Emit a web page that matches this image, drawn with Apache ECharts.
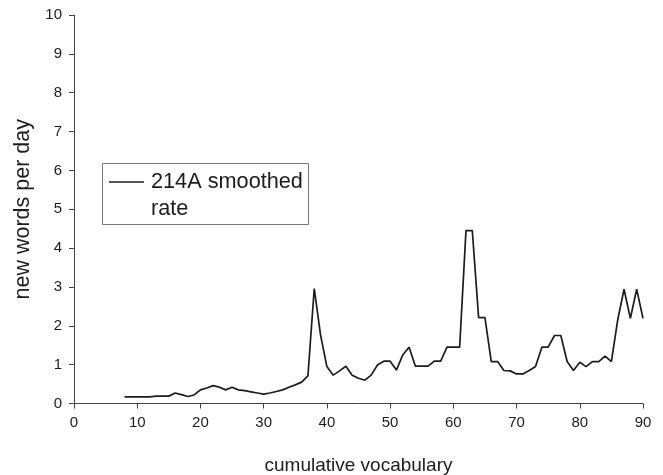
<!DOCTYPE html>
<html>
<head>
<meta charset="utf-8">
<script src="https://cdn.jsdelivr.net/npm/echarts@6/dist/echarts.min.js"></script>
<style>
  html, body { margin: 0; padding: 0; background: #fff; }
  #chart { width: 663px; height: 475px; }
</style>
</head>
<body>
<div id="chart"></div>
<script>
// Cumulative vocabulary (x) and smoothed new-word rate (y)
const vocab = [
  8, 9, 10, 11, 12, 13, 14, 15, 16, 17, 18, 19, 20, 21, 22, 23, 24, 25, 26, 27,
  28, 29, 30, 31, 32, 33, 34, 35, 36, 37, 38, 39, 40, 41, 42, 43, 44, 45, 46, 47,
  48, 49, 50, 51, 52, 53, 54, 55, 56, 57, 58, 59, 60, 61, 62, 63, 64, 65, 66, 67,
  68, 69, 70, 71, 72, 73, 74, 75, 76, 77, 78, 79, 80, 81, 82, 83, 84, 85, 86, 87,
  88, 89, 90
];
const rate214A = [
  0.17, 0.17, 0.17, 0.17, 0.17, 0.19, 0.19, 0.19, 0.27, 0.23, 0.18, 0.22, 0.35, 0.40, 0.46, 0.42, 0.35, 0.42, 0.35, 0.33,
  0.30, 0.27, 0.24, 0.27, 0.31, 0.35, 0.42, 0.48, 0.55, 0.71, 2.96, 1.76, 0.95, 0.73, 0.84, 0.96, 0.73, 0.65, 0.60, 0.73,
  0.99, 1.09, 1.09, 0.86, 1.25, 1.45, 0.96, 0.96, 0.96, 1.09, 1.09, 1.45, 1.45, 1.45, 4.45, 4.45, 2.21, 2.21, 1.08, 1.08,
  0.85, 0.84, 0.76, 0.76, 0.85, 0.95, 1.45, 1.45, 1.75, 1.75, 1.08, 0.85, 1.06, 0.95, 1.08, 1.08, 1.22, 1.08, 2.15, 2.94,
  2.19, 2.94, 2.19
];
const seriesLabelLines = ['214A smoothed', 'rate'];
const xAxisName = 'cumulative vocabulary';
const yAxisName = 'new words per day';

const FONT = '"Liberation Sans", Arial, sans-serif';
const INK = '#1c1c1c';

const chart = echarts.init(document.getElementById('chart'), null, { renderer: 'canvas' });

chart.setOption({
  animation: false,
  backgroundColor: '#ffffff',
  grid: {
    left: 74, right: 20, top: 15, bottom: 71.5,
    containLabel: false,
    outerBoundsMode: 'none'
  },
  xAxis: {
    type: 'value',
    min: 0, max: 90, interval: 10,
    name: xAxisName,
    nameLocation: 'middle',
    nameGap: 53,
    nameTextStyle: { fontFamily: FONT, fontSize: 19, color: INK },
    axisLine: { show: true, onZero: false, lineStyle: { color: '#444', width: 1 } },
    axisTick: { show: true, inside: false, length: 5, lineStyle: { color: '#444' } },
    axisLabel: { margin: 12, fontFamily: FONT, fontSize: 15, color: INK },
    splitLine: { show: false }
  },
  yAxis: {
    type: 'value',
    min: 0, max: 10, interval: 1,
    name: yAxisName,
    nameLocation: 'middle',
    nameGap: 35,
    nameRotate: 90,
    nameTextStyle: { fontFamily: FONT, fontSize: 21.5, color: INK },
    axisLine: { show: true, lineStyle: { color: '#444', width: 1 } },
    axisTick: { show: true, inside: false, length: 5, lineStyle: { color: '#444' } },
    axisLabel: { margin: 12, fontFamily: FONT, fontSize: 15, color: INK },
    splitLine: { show: false }
  },
  series: [{
    name: seriesLabelLines.join(' '),
    type: 'line',
    data: vocab.map((v, i) => [v, rate214A[i]]),
    showSymbol: false,
    symbol: 'none',
    lineStyle: { color: INK, width: 1.7 },
    silent: true
  }],
  // boxed key in the upper-left of the plot
  graphic: [
    {
      type: 'rect',
      left: 102, top: 163,
      shape: { width: 206, height: 61 },
      style: { fill: '#fff', stroke: '#777', lineWidth: 1 },
      z: 10
    },
    {
      type: 'line',
      shape: { x1: 109, y1: 182, x2: 144, y2: 182 },
      style: { stroke: INK, lineWidth: 1.6 },
      z: 11
    },
    {
      type: 'text',
      left: 151, top: 168.5,
      style: {
        text: seriesLabelLines.join('\n'),
        font: '21.7px ' + FONT,
        lineHeight: 27,
        fill: INK
      },
      z: 11
    }
  ]
});
</script>
</body>
</html>
